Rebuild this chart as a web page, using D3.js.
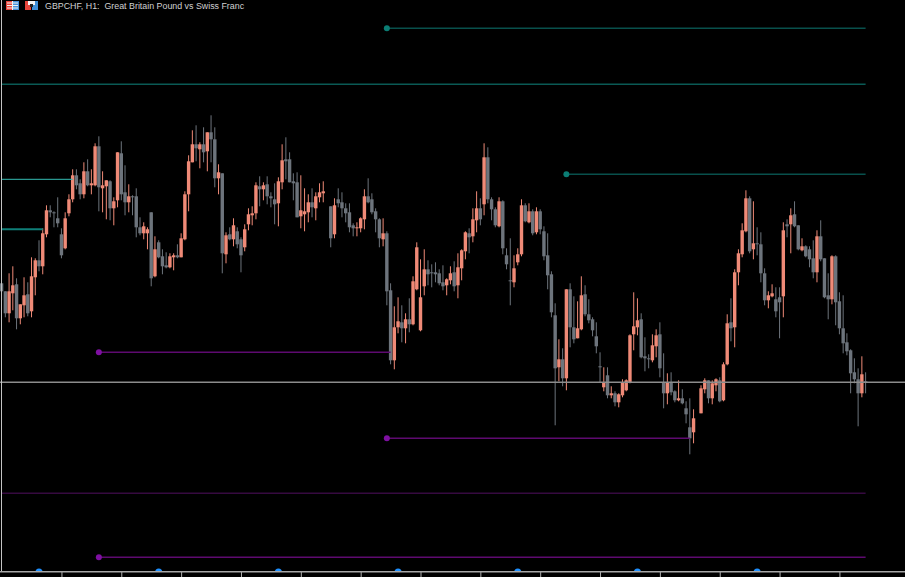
<!DOCTYPE html>
<html><head><meta charset="utf-8">
<style>html,body{margin:0;padding:0;background:#000;overflow:hidden}svg{display:block}</style>
<script src="https://cdnjs.cloudflare.com/ajax/libs/d3/7.8.5/d3.min.js"></script>
</head><body><svg id="c" width="905" height="577"></svg>
<script>
const title = "GBPCHF, H1:  Great Britain Pound vs Swiss Franc";
// Prices in points relative to the current bid line; null = no visible bar
const highs = [99,91,109,116,104,78,105,100,125,124,142,154,177,177,171,185,154,170,188,213,213,203,220,223,213,239,246,211,202,202,185,230,241,217,198,187,194,165,160,155,170,146,142,133,130,129,129,138,149,191,227,252,257,240,255,250,267,255,218,209,150,155,164,155,145,158,174,176,200,206,200,206,190,199,205,238,245,230,209,210,207,194,188,194,190,199,201,null,176,184,194,190,179,179,159,160,165,193,204,189,174,164,164,151,99,76,85,77,69,84,106,140,123,133,122,118,120,113,117,104,116,121,129,133,151,154,174,191,184,239,235,185,175,185,182,134,144,127,134,183,179,179,173,175,173,156,149,111,79,43,34,93,99,86,81,106,97,83,65,60,30,15,15,-4,-9,-11,3,3,48,90,84,69,45,28,48,53,60,29,9,10,-8,2,-7,-19,-16,-27,null,-3,4,2,2,4,5,20,68,84,113,133,159,192,186,181,155,150,114,91,98,95,95,160,163,174,181,157,144,137,136,142,152,162,124,109,127,127,90,87,49,33,24,14,26,10];
const opens = [99,91,69,89,98,64,77,88,71,105,122,116,148,172,170,164,148,134,169,183,207,199,188,211,197,197,236,194,196,201,174,182,229,190,180,186,186,155,149,149,170,106,140,126,117,115,125,127,125,143,188,220,238,233,238,231,250,243,204,209,128,148,143,151,143,135,158,167,169,196,193,198,186,183,179,200,223,223,201,200,166,168,170,180,174,185,189,null,176,148,183,180,174,170,157,154,154,163,186,183,171,163,143,149,92,22,55,60,54,63,58,93,52,96,113,110,110,109,100,97,102,110,97,114,131,149,146,162,174,178,225,183,173,156,181,127,102,100,120,128,177,160,171,150,171,151,127,108,67,15,23,4,93,55,44,53,88,68,63,46,16,-5,7,-13,-11,-20,-13,-8,0,48,55,63,26,24,22,36,48,0,-11,0,-9,-18,-16,-26,-45,-50,null,-31,-7,2,-16,-3,2,-18,18,60,55,110,128,151,184,133,139,138,109,82,86,83,85,86,158,158,168,157,132,136,133,124,110,146,124,87,83,126,81,54,40,32,10,3,-11,1];
const closes = [91,69,91,97,64,78,87,69,106,122,116,149,172,170,170,159,127,164,183,207,197,188,211,197,199,236,195,197,202,174,181,230,188,180,186,186,155,149,156,153,104,133,125,116,115,126,127,125,144,188,221,238,234,238,230,250,243,204,210,129,147,143,157,138,127,153,168,169,197,193,197,186,184,178,201,222,221,200,199,165,172,171,180,175,186,190,191,null,144,177,179,174,169,155,154,155,164,186,180,170,163,144,149,91,22,55,61,54,63,58,101,135,85,113,108,109,108,99,96,103,109,96,115,132,150,145,163,174,163,225,183,173,157,181,134,118,101,114,128,177,161,171,149,171,153,126,107,70,14,23,4,93,55,43,54,87,68,62,52,36,15,0,-13,-11,-20,-12,0,2,47,56,62,25,24,23,37,47,14,-11,0,-10,-18,-16,-21,-32,-56,-36,null,-6,2,-16,-1,3,-19,18,59,54,110,129,152,184,131,139,138,109,82,87,89,71,80,152,156,167,156,133,136,126,123,110,146,123,85,83,126,80,54,39,31,9,3,-11,8,0];
const lows = [82,65,60,72,53,58,65,66,65,87,111,108,145,165,155,155,124,133,166,180,193,183,184,196,188,196,171,170,163,162,157,175,182,167,170,167,145,147,143,133,96,105,124,108,114,114,112,124,125,142,171,220,221,214,220,211,220,195,188,109,119,142,136,134,110,131,152,157,163,176,182,178,175,158,156,193,203,200,182,165,154,151,160,165,162,180,180,null,135,144,175,165,160,150,146,146,150,153,179,168,150,135,136,77,18,13,49,40,39,50,57,92,51,87,97,95,100,97,92,87,98,91,84,102,123,129,140,150,157,167,179,162,155,155,128,113,77,95,117,126,160,159,147,148,148,122,93,65,-43,1,-4,-8,35,39,44,52,66,59,46,29,0,-9,-16,-16,-24,-25,-15,-9,-1,32,47,24,11,14,20,25,5,-26,-22,-13,-20,-19,-22,-41,-72,-61,null,-31,-11,-21,-22,-9,-20,-19,17,41,35,97,125,150,129,123,127,100,77,74,85,65,44,65,145,129,155,132,131,125,115,104,100,121,84,63,78,57,48,29,27,-11,-1,-44,-15,-11];

// Level lines: start bar, end bar, level, has a start dot
const tealLevels  = [[103,231,354,true],[0,231,298,false],[151,231,208,true]];
const purpleLevels= [[26,104,30,true],[103,184,-56,true],[0,231,-111,false],[26,231,-175,true]];
const stubBars = [19,11];
const stubLevels = [203,153];
const stubColors = ["#35bdb4","#0f7f78"];
const stubWidths = [1,2];
const bidLevel = 0;
const timeTicks = d3.range(16,232,16);
const sessionBars = [10,42,74,106,138,170,202];

const W=905,H=577;
const x = d3.scaleLinear().domain([0,231]).range([1.6,865.6]);
const y = d3.scaleLinear().domain([382,-195]).range([0.3,577.3]);
const svg = d3.select("#c");
svg.append("rect").attr("width",W).attr("height",H).attr("fill","#000");

const bars = d3.range(highs.length).filter(i=>highs[i]!==null)
  .map(i=>({i,h:highs[i],o:opens[i],c:closes[i],l:lows[i]}));
const UP="#ef8a77",DOWN="#6d747c";
const col=d=>d.c>d.o?UP:DOWN;

const g = svg.selectAll("g.bar").data(bars).join("g").attr("class","bar");
g.append("line").attr("x1",d=>x(d.i)).attr("x2",d=>x(d.i))
  .attr("y1",d=>y(d.h)).attr("y2",d=>y(d.l)).attr("stroke",col).attr("stroke-width",1);
g.append("rect").attr("x",d=>x(d.i)-1.7).attr("width",3.4)
  .attr("y",d=>y(Math.max(d.o,d.c))).attr("height",d=>Math.max(1,Math.abs(y(d.o)-y(d.c))))
  .attr("fill",col);

function levels(data,color,dim,dot){
  const s=svg.append("g");
  s.selectAll("line").data(data).join("line")
   .attr("x1",d=>d[0]===0?2:x(d[0])).attr("x2",d=>x(d[1])).attr("y1",d=>y(d[2])).attr("y2",d=>y(d[2]))
   .attr("stroke",d=>d[3]?color:dim).attr("stroke-width",1.4);
  s.selectAll("circle").data(data.filter(d=>d[3])).join("circle")
   .attr("cx",d=>x(d[0])).attr("cy",d=>y(d[2])).attr("r",3).attr("fill",dot);
}
levels(tealLevels,"#08504c","#0a5a55","#0b7d74");
levels(purpleLevels,"#5e0a70","#360a40","#7f10a2");

svg.append("g").selectAll("line").data(stubLevels).join("line")
   .attr("x1",2).attr("x2",(d,i)=>x(stubBars[i])).attr("y1",d=>y(d)).attr("y2",d=>y(d))
   .attr("stroke",(d,i)=>stubColors[i]).attr("stroke-width",(d,i)=>stubWidths[i]);

svg.append("line").attr("x1",0).attr("x2",W).attr("y1",y(bidLevel)).attr("y2",y(bidLevel))
   .attr("stroke","#8c8c8c").attr("stroke-width",1.5);

// session markers, only the part above the time axis shows
svg.append("g").selectAll("circle").data(sessionBars).join("circle")
   .attr("cx",d=>x(d)).attr("cy",572).attr("r",3.5).attr("fill","#1e90ff");
svg.append("rect").attr("x",0).attr("y",572).attr("width",W).attr("height",5).attr("fill","#000");

// frame and time axis
svg.append("line").attr("x1",1.5).attr("x2",1.5).attr("y1",0).attr("y2",572).attr("stroke","#c4c4c4");
const axis=d3.axisBottom(x).tickValues(timeTicks).tickSize(5).tickFormat("");
const ax=svg.append("g").attr("transform","translate(0,572)").call(axis);
ax.select(".domain").remove();
ax.selectAll("line").attr("stroke","#b0b0b0");
svg.append("rect").attr("x",0).attr("y",571).attr("width",W).attr("height",1.5).attr("fill","#a6a6a6");

// header icons + title
const ic=svg.append("g");
ic.append("rect").attr("x",6).attr("y",1).attr("width",13).attr("height",9).attr("fill","#f4f4f4");
ic.append("rect").attr("x",6).attr("y",1).attr("width",6).attr("height",9).attr("fill","#e8463c");
ic.append("rect").attr("x",13).attr("y",1).attr("width",6).attr("height",9).attr("fill","#4a94dc");
[3,5.5,8].forEach(v=>ic.append("rect").attr("x",7).attr("y",v-.5).attr("width",11).attr("height",1).attr("fill","#f2f2f2"));
ic.append("rect").attr("x",25).attr("y",1).attr("width",6).attr("height",9).attr("fill","#e8463c");
ic.append("rect").attr("x",32).attr("y",1).attr("width",6).attr("height",9).attr("fill","#3f8fd8");
ic.append("rect").attr("x",28).attr("y",1).attr("width",7).attr("height",4).attr("fill","#f4f4f4");
ic.append("rect").attr("x",30).attr("y",4).attr("width",3).attr("height",3).attr("fill","#222");
svg.append("text").attr("x",45).attr("y",9).attr("fill","#d0d0d0")
   .attr("font-family","Liberation Sans, Arial, sans-serif").attr("font-size",8.85)
   .style("white-space","pre").text(title);
</script></body></html>
